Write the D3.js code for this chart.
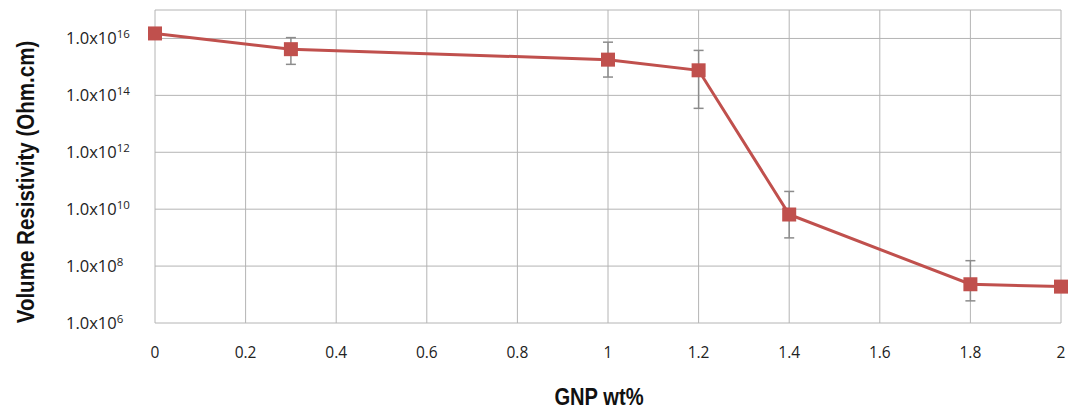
<!DOCTYPE html>
<html>
<head>
<meta charset="utf-8">
<script src="https://cdn.jsdelivr.net/npm/d3@7"></script>
<style>
  body { margin: 0; background: #fff; }
  text { font-family: "Open Sans", "DejaVu Sans", sans-serif; fill: #222; }
  text.title { font-family: "Liberation Sans Narrow", "Liberation Sans", sans-serif; font-weight: bold; fill: #111; }
</style>
</head>
<body>
<div id="chart"></div>
<script>
// chart size
const width = 1071;
const height = 416;
const margin = { top: 10, right: 10, bottom: 93, left: 155 };

// data
const gnp = [0, 0.3, 1, 1.2, 1.4, 1.8, 2];
const resistivity = [1.5e16, 4.2e15, 1.8e15, 7.6e14, 6.5e9, 2.3e7, 1.9e7];
const errHigh = [null, 1.07e16, 7.4e15, 3.8e15, 4.2e10, 1.55e8, null];
const errLow = [null, 1.23e15, 4.4e14, 3.5e13, 9.8e8, 6.0e6, null];
const xTicks = [0, 0.2, 0.4, 0.6, 0.8, 1, 1.2, 1.4, 1.6, 1.8, 2];
const yExps = [6, 8, 10, 12, 14, 16];

const svg = d3.select("#chart").append("svg")
    .attr("width", width)
    .attr("height", height);

const x = d3.scaleLinear().domain([0, 2]).range([margin.left, width - margin.right]);
const y = d3.scaleLog().domain([1e6, 1e17]).range([height - margin.bottom, margin.top]);

// grid
svg.append("g")
    .selectAll("line")
    .data(xTicks)
    .enter()
    .append("line")
    .attr("x1", d => x(d)).attr("x2", d => x(d))
    .attr("y1", y(1e17)).attr("y2", y(1e6))
    .attr("stroke", "#b4b4b4").attr("stroke-width", 1);

svg.append("g")
    .selectAll("line")
    .data(yExps.concat([17]))
    .enter()
    .append("line")
    .attr("x1", x(0)).attr("x2", x(2))
    .attr("y1", d => y(Math.pow(10, d))).attr("y2", d => y(Math.pow(10, d)))
    .attr("stroke", "#b4b4b4").attr("stroke-width", 1);

// x tick labels
svg.append("g")
    .selectAll("text")
    .data(xTicks)
    .enter()
    .append("text")
    .attr("x", d => x(d))
    .attr("y", 358)
    .attr("text-anchor", "middle")
    .attr("font-size", 15.5)
    .text(d => d3.format("~g")(d));

// y tick labels
const yl = svg.append("g")
    .selectAll("text")
    .data(yExps)
    .enter()
    .append("text")
    .attr("x", 66)
    .attr("y", d => y(Math.pow(10, d)) + 6)
    .attr("font-size", 16.5);
yl.append("tspan").text("1.0x10");
yl.append("tspan")
    .attr("dy", -6)
    .attr("font-size", 11.5)
    .text(d => d);

// axis titles (squeezed to look like a narrow face)
svg.append("text")
    .attr("class", "title")
    .attr("transform", "translate(599,405) scale(0.84,1)")
    .attr("text-anchor", "middle")
    .attr("font-size", 24)
    .text("GNP wt%");

svg.append("text")
    .attr("class", "title")
    .attr("transform", "translate(34,182) rotate(-90) scale(0.856,1)")
    .attr("text-anchor", "middle")
    .attr("font-size", 24)
    .text("Volume Resistivity (Ohm.cm)");

// error bars
const pts = gnp.map((g, i) => ({ x: g, v: resistivity[i], hi: errHigh[i], lo: errLow[i] }));
const eb = svg.append("g")
    .selectAll("g")
    .data(pts.filter(d => d.hi !== null))
    .enter()
    .append("g")
    .attr("stroke", "#8c8c8c")
    .attr("stroke-width", 1.5);
eb.append("line")
    .attr("x1", d => x(d.x)).attr("x2", d => x(d.x))
    .attr("y1", d => y(d.hi)).attr("y2", d => y(d.lo));
eb.append("line")
    .attr("x1", d => x(d.x) - 5).attr("x2", d => x(d.x) + 5)
    .attr("y1", d => y(d.hi)).attr("y2", d => y(d.hi));
eb.append("line")
    .attr("x1", d => x(d.x) - 5).attr("x2", d => x(d.x) + 5)
    .attr("y1", d => y(d.lo)).attr("y2", d => y(d.lo));

// line
const line = d3.line().x(d => x(d.x)).y(d => y(d.v));
svg.append("path")
    .datum(pts)
    .attr("d", line)
    .attr("fill", "none")
    .attr("stroke", "#c0504d")
    .attr("stroke-width", 3);

// markers
svg.selectAll("rect.mk")
    .data(pts)
    .enter()
    .append("rect")
    .attr("class", "mk")
    .attr("x", d => x(d.x) - 7)
    .attr("y", d => y(d.v) - 7)
    .attr("width", 14)
    .attr("height", 14)
    .attr("fill", "#c0504d");
</script>
</body>
</html>
